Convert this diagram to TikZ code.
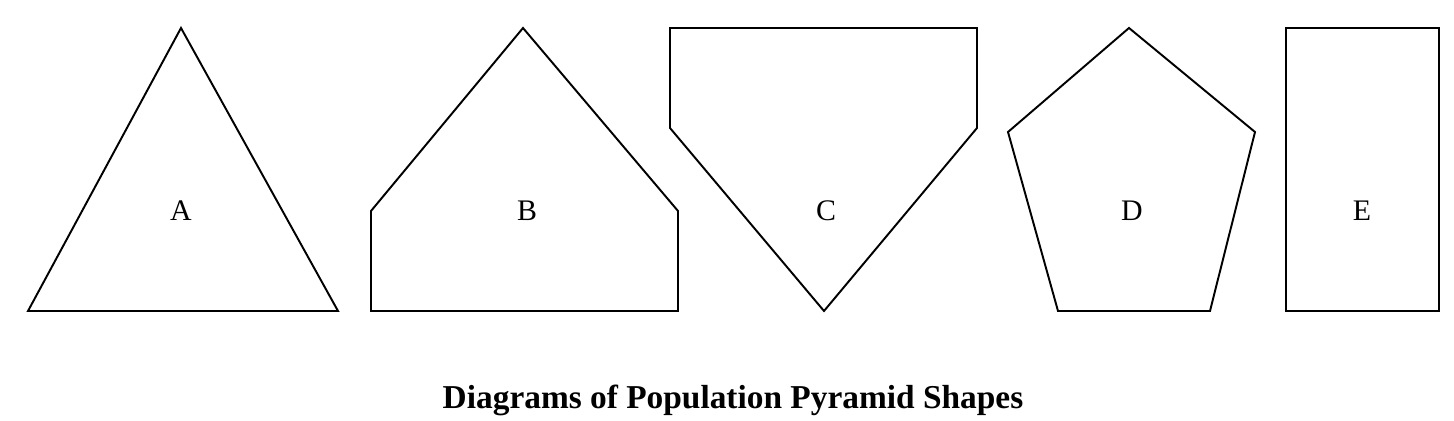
\documentclass[tikz,border=0pt]{standalone}
\usepackage{fontspec}
\setmainfont{Liberation Serif}
\usepackage{tikz}

\begin{document}
\begin{tikzpicture}[x=0.02cm,y=-0.02cm,
    outline/.style={line width=1.1pt,line join=miter},
    letter/.style={anchor=base,font=\fontsize{17}{19}\selectfont}]
            \useasboundingbox (0,0) rectangle (1454,421);
            % A
            \draw [outline] (181,28) -- (338,311) -- (28,311) -- cycle;
            % B
            \draw [outline] (371,311) -- (371,211) -- (523,28) -- (678,211) -- (678,311) -- cycle;
            % C
            \draw [outline] (670,28) -- (977,28) -- (977,128) -- (824,311) -- (670,128) -- cycle;
            % D
            \draw [outline] (1129,28) -- (1255,132) -- (1210,311) -- (1058,311) -- (1008,132) -- cycle;
            % E
            \draw [outline] (1286,28) rectangle (1439,311);
            \node [letter] (labA) at (181,221) {A};
            \node [letter] (labB) at (527,221) {B};
            \node [letter] (labC) at (826,221) {C};
            \node [letter] (labD) at (1132,221) {D};
            \node [letter] (labE) at (1362,221) {E};
            \node [anchor=base,font=\bfseries\fontsize{19}{21}\selectfont] (title) at (733,409)
                {Diagrams of Population Pyramid Shapes};
        \end{tikzpicture}
\end{document}
